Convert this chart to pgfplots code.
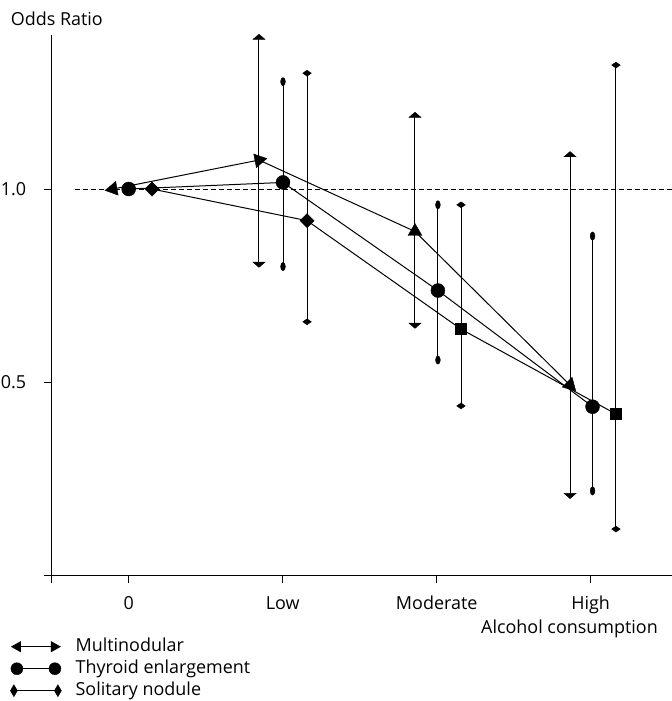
\documentclass[border=0pt]{standalone}
\usepackage{fontspec}
\setmainfont{Open Sans}
\usepackage{pgfplots}
\usepackage{pgfplotstable}
\pgfplotsset{compat=1.18}
\usetikzlibrary{arrows.meta}

% x: position (category 0 at 0.5, Low 1.5, Moderate 2.5, High 3.5)
\pgfplotstableread{
x     y     lo    hi
0.398 1.000 1.000 1.000
1.346 1.075 0.806 1.392
2.359 0.890 0.648 1.190
3.366 0.492 0.207 1.088
}\multi

\pgfplotstableread{
x     y     lo    hi
0.500 1.000 1.000 1.000
1.502 1.017 0.799 1.278
2.508 0.737 0.557 0.959
3.512 0.436 0.218 0.878
}\thyroid

\pgfplotstableread{
x     y     lo    hi
0.651 1.000 1.000 1.000
1.658 0.918 0.656 1.300
2.658 0.637 0.438 0.959
3.664 0.417 0.119 1.321
}\solitary

\begin{document}
\begin{tikzpicture}[font=\fontsize{18}{21}\selectfont]
\begin{axis}[
  scale only axis, width=620.3bp, height=540bp,
  xmin=0, xmax=4.028, ymin=0, ymax=1.399,
  axis lines=left, axis line style={-, line width=0.9bp},
  tick align=outside, major tick length=8bp,
  tick style={line width=0.9bp, black},
  xtick={0,0.5,1.5,2.5,3.5}, xticklabels={,0,Low,Moderate,High},
  ytick={0,0.5,1}, yticklabels={,0.5,1.0},
  xticklabel style={text height=13bp, text depth=4bp, yshift=-10bp},
  yticklabel style={xshift=-14bp},
  clip=false,
  legend cell align=left,
  legend style={at={(axis description cs:0,0)}, anchor=north west,
    xshift=-41.7bp, yshift=-62bp, draw=none, fill=none, inner sep=0pt,
    row sep=3bp, column sep=13bp,
    nodes={inner sep=1bp, text height=13bp, text depth=4bp}},
]
% reference line
\addplot[forget plot, black, line width=0.8bp, dash pattern=on 5bp off 3bp] coordinates {(0.151,1) (4.028,1)};

% Multinodular
\addplot[forget plot, black, line width=1bp, mark=none,
  error bars/.cd, y dir=both, y explicit, error mark=none,
  error bar style={line width=1bp}]
  table[x=x, y=y, y error plus expr=\thisrow{hi}-\thisrow{y}, y error minus expr=\thisrow{y}-\thisrow{lo}] {\multi};
\addplot[forget plot, only marks, mark=triangle*, mark size=7bp, mark options={yscale=0.5, black},
  skip coords between index={0}{1}] table[x=x, y=hi] {\multi};
\addplot[forget plot, only marks, mark=triangle*, mark size=7bp, mark options={rotate=180, yscale=0.5, black},
  skip coords between index={0}{1}] table[x=x, y=lo] {\multi};
\addplot[forget plot, only marks, mark=triangle*, mark size=8bp, mark options={rotate=100, black}] coordinates {(0.398,1.000)};
\addplot[forget plot, only marks, mark=triangle*, mark size=8bp, mark options={rotate=-79, black}] coordinates {(1.346,1.075)};
\addplot[forget plot, only marks, mark=triangle*, mark size=8bp, mark options={black}] coordinates {(2.359,0.890)};
\addplot[forget plot, only marks, mark=triangle*, mark size=8bp, mark options={rotate=-135, black}] coordinates {(3.366,0.492)};

% Thyroid enlargement
\addplot[forget plot, black, line width=1bp, mark=none,
  error bars/.cd, y dir=both, y explicit, error mark=none,
  error bar style={line width=1bp}]
  table[x=x, y=y, y error plus expr=\thisrow{hi}-\thisrow{y}, y error minus expr=\thisrow{y}-\thisrow{lo}] {\thyroid};
\addplot[forget plot, only marks, mark=*, mark size=3bp, mark options={xscale=0.8, yscale=1.4, black},
  skip coords between index={0}{1}] table[x=x, y=hi] {\thyroid};
\addplot[forget plot, only marks, mark=*, mark size=3bp, mark options={xscale=0.8, yscale=1.4, black},
  skip coords between index={0}{1}] table[x=x, y=lo] {\thyroid};
\addplot[forget plot, only marks, mark=*, mark size=7bp, mark options={black}] table[x=x, y=y] {\thyroid};

% Solitary nodule
\addplot[forget plot, black, line width=1bp, mark=none,
  error bars/.cd, y dir=both, y explicit, error mark=none,
  error bar style={line width=1bp}]
  table[x=x, y=y, y error plus expr=\thisrow{hi}-\thisrow{y}, y error minus expr=\thisrow{y}-\thisrow{lo}] {\solitary};
\addplot[forget plot, only marks, mark=square*, mark size=2.1bp, mark options={xscale=1.45, rotate=45, black},
  skip coords between index={0}{1}] table[x=x, y=hi] {\solitary};
\addplot[forget plot, only marks, mark=square*, mark size=2.1bp, mark options={xscale=1.45, rotate=45, black},
  skip coords between index={0}{1}] table[x=x, y=lo] {\solitary};
\addplot[forget plot, only marks, mark=square*, mark size=5bp, mark options={rotate=45, black},
  skip coords between index={2}{4}] table[x=x, y=y] {\solitary};
\addplot[forget plot, only marks, mark=square*, mark size=5.5bp, mark options={black},
  skip coords between index={0}{2}] table[x=x, y=y] {\solitary};

% legend
\addlegendimage{legend image code/.code={
  \draw[line width=1bp, {Triangle[width=11bp,length=10bp]}-{Triangle[width=11bp,length=10bp]}] (0bp,0bp) -- (50bp,0bp);}}
\addlegendentry{Multinodular}
\addlegendimage{legend image code/.code={
  \draw[line width=1bp] (6bp,0bp) -- (44bp,0bp);
  \fill (6bp,0bp) circle (6bp); \fill (44bp,0bp) circle (6bp);}}
\addlegendentry{Thyroid enlargement}
\addlegendimage{legend image code/.code={
  \draw[line width=1bp] (3bp,0bp) -- (47bp,0bp);
  \fill (-0.5bp,0bp) -- (3bp,6bp) -- (6.5bp,0bp) -- (3bp,-6bp) -- cycle;
  \fill (43.5bp,0bp) -- (47bp,6bp) -- (50.5bp,0bp) -- (47bp,-6bp) -- cycle;}}
\addlegendentry{Solitary nodule}

\node[anchor=base west, inner sep=0pt] at (axis description cs:0,1) [xshift=-41bp, yshift=9bp] {Odds Ratio};
\node[anchor=base east, inner sep=0pt] at (axis description cs:1,0) [xshift=-14bp, yshift=-58bp] {Alcohol consumption};
\end{axis}
\pgfresetboundingbox
\path[use as bounding box] ([xshift=-51.7bp, yshift=-126bp]current axis.south west) rectangle ([yshift=35bp]current axis.north east);
\end{tikzpicture}
\end{document}
